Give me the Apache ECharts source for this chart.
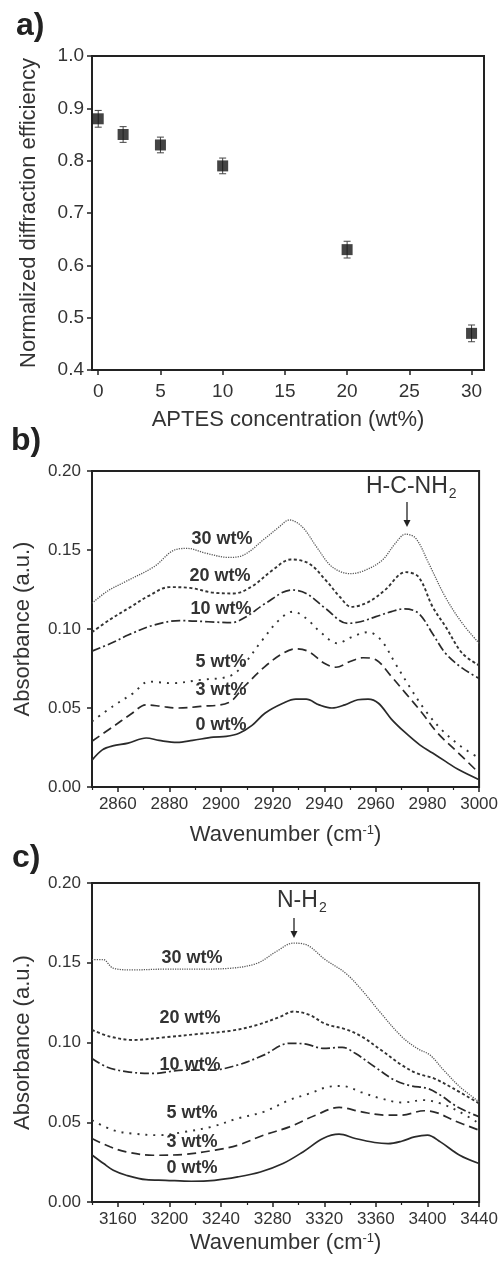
<!DOCTYPE html>
<html>
<head>
<meta charset="utf-8">
<script src="https://cdn.jsdelivr.net/npm/echarts@6/dist/echarts.min.js"></script>
<style>
html,body{margin:0;padding:0;background:#fff;}
#chart{width:501px;height:1264px;}
</style>
</head>
<body>
<div id="chart"></div>
<script>
// ---------- Panel a data ----------
const aConc = [0, 2, 5, 10, 20, 30];
const aEff  = [0.88, 0.85, 0.83, 0.79, 0.63, 0.47];
const aErr  = [0.016, 0.015, 0.015, 0.015, 0.016, 0.016];
const aXTicks = [0, 5, 10, 15, 20, 25, 30];
const aYTicks = [0.4, 0.5, 0.6, 0.7, 0.8, 0.9, 1.0];

// ---------- Panel b data (wavenumber, absorbance) ----------
const bXTicks = [2860, 2880, 2900, 2920, 2940, 2960, 2980, 3000];
const bXMinor = [2850, 2870, 2890, 2910, 2930, 2950, 2970, 2990];
const bYTicks = [0, 0.05, 0.10, 0.15, 0.20];
const b0 = [[2850,0.017],[2854,0.0235],[2858,0.026],[2864,0.0278],[2871,0.031],[2876,0.0295],[2883,0.0282],[2889,0.0295],[2897,0.0316],[2902,0.032],[2907,0.034],[2912,0.039],[2917,0.0467],[2924,0.053],[2929,0.0556],[2933,0.0556],[2938,0.052],[2943,0.050],[2948,0.052],[2953,0.0552],[2957,0.0556],[2961,0.053],[2966,0.043],[2971,0.035],[2977,0.0267],[2982,0.0215],[2987,0.0162],[2992,0.011],[3000,0.0046]];
const b3 = [[2850,0.029],[2858,0.038],[2865,0.046],[2871,0.052],[2877,0.051],[2883,0.050],[2892,0.051],[2903,0.0535],[2909,0.0636],[2917,0.0762],[2924,0.0846],[2929,0.0875],[2934,0.0857],[2940,0.0783],[2944.5,0.0758],[2950,0.0794],[2955,0.0818],[2960,0.0805],[2966,0.070],[2971.5,0.0594],[2978,0.0467],[2984,0.034],[2992,0.0215],[3000,0.0088]];
const b5 = [[2850,0.0415],[2858,0.051],[2866,0.0594],[2872,0.0667],[2881,0.0657],[2892,0.0678],[2903,0.070],[2908,0.076],[2916,0.093],[2922.5,0.1057],[2928,0.111],[2933,0.1067],[2939,0.0973],[2945,0.091],[2951,0.0952],[2957,0.098],[2962,0.093],[2967.5,0.0783],[2973,0.0636],[2979,0.0488],[2985.5,0.0362],[2993,0.0257],[3000,0.0183]];
const b10 = [[2850,0.086],[2858,0.0914],[2864,0.0962],[2874,0.1025],[2884,0.1053],[2895,0.1046],[2904,0.104],[2910,0.108],[2917,0.116],[2927.5,0.1247],[2933,0.1225],[2940.5,0.113],[2949,0.1036],[2954,0.1046],[2960,0.1078],[2966,0.111],[2971,0.1128],[2976.5,0.110],[2982,0.097],[2987,0.0846],[2993.5,0.0752],[3000,0.0688]];
const b20 = [[2850,0.098],[2857,0.106],[2865,0.114],[2872,0.121],[2880,0.1265],[2888,0.126],[2897,0.123],[2905,0.1225],[2912,0.127],[2920,0.1373],[2927,0.144],[2934,0.1415],[2940.5,0.131],[2946,0.1204],[2950.5,0.114],[2957,0.117],[2963.5,0.1246],[2971.5,0.136],[2976.5,0.133],[2982,0.114],[2987,0.1015],[2993.5,0.0846],[3000,0.077]];
const b30 = [[2850,0.1163],[2856,0.124],[2863,0.130],[2874,0.1394],[2882,0.150],[2887,0.151],[2894,0.148],[2903,0.1453],[2909,0.147],[2917,0.1573],[2922.5,0.1646],[2926.5,0.169],[2931.5,0.1646],[2937,0.152],[2943,0.1394],[2950,0.135],[2956,0.1373],[2962.5,0.1436],[2967.5,0.1541],[2971.5,0.160],[2975.5,0.1573],[2980.5,0.1415],[2987,0.120],[2993.5,0.1036],[3000,0.091]];

// ---------- Panel c data ----------
const cXTicks = [3160, 3200, 3240, 3280, 3320, 3360, 3400, 3440];
const cXMinor = [3140, 3180, 3220, 3260, 3300, 3340, 3380, 3420];
const cYTicks = [0, 0.05, 0.10, 0.15, 0.20];
const c0 = [[3140,0.0295],[3149,0.0241],[3156.5,0.0199],[3166.5,0.0168],[3182,0.014],[3197,0.0136],[3217,0.013],[3235,0.0136],[3253,0.0157],[3270.5,0.0188],[3288,0.0241],[3303.5,0.0314],[3319,0.0398],[3331.5,0.0425],[3344,0.0398],[3359,0.0373],[3369.5,0.0366],[3380,0.0381],[3390,0.0408],[3400,0.0419],[3410,0.0377],[3425,0.0293],[3440,0.0241]];
const c3 = [[3140,0.0398],[3154,0.0346],[3166.5,0.0314],[3187,0.0293],[3212,0.0299],[3235,0.0325],[3253,0.0356],[3273,0.0419],[3293,0.0471],[3313.5,0.0545],[3331.5,0.0593],[3349,0.0565],[3367,0.0545],[3380,0.0545],[3397.5,0.0572],[3407.5,0.0559],[3420,0.0513],[3440,0.045]];
const c5 = [[3140,0.0513],[3156.5,0.045],[3171.5,0.0429],[3192,0.0419],[3212,0.044],[3232.5,0.0471],[3253,0.0524],[3273,0.0565],[3293,0.0639],[3308.5,0.068],[3324,0.0723],[3334,0.0727],[3349,0.0687],[3364,0.0649],[3380,0.0624],[3397,0.0639],[3410,0.0618],[3425,0.0565],[3440,0.0492]];
const c10 = [[3140,0.090],[3151,0.0848],[3166.5,0.0817],[3187,0.0806],[3212,0.0827],[3232.5,0.0827],[3253,0.0859],[3273,0.0921],[3293,0.0995],[3306,0.099],[3319,0.0963],[3334,0.097],[3344,0.0932],[3359,0.0848],[3374.5,0.0764],[3387,0.0729],[3400,0.0712],[3410,0.067],[3423,0.0597],[3440,0.0534]];
const c20 = [[3140,0.1079],[3154,0.1037],[3171.5,0.1016],[3197,0.1033],[3222,0.1053],[3248,0.1074],[3268,0.111],[3286,0.1162],[3296,0.1194],[3308.5,0.1173],[3321,0.1116],[3336.5,0.1083],[3349,0.1037],[3364,0.0953],[3380,0.0859],[3392,0.0806],[3405,0.0775],[3420,0.0712],[3440,0.0618]];
const c30 = [[3140,0.1520],[3148.5,0.152],[3156.5,0.1466],[3171.5,0.1455],[3197,0.146],[3222,0.146],[3248,0.1466],[3268,0.1497],[3283,0.1571],[3296,0.1623],[3306,0.1613],[3321,0.1518],[3336.5,0.1435],[3349,0.133],[3364,0.1183],[3380,0.1037],[3392,0.0963],[3402,0.0921],[3412.5,0.0827],[3425,0.0723],[3440,0.0628]];

const seriesLabels = ['0 wt%', '3 wt%', '5 wt%', '10 wt%', '20 wt%', '30 wt%'];

// ---------- Styling ----------
const FONT = '"Liberation Sans", Arial, Helvetica, sans-serif';
const AX = '#222';
const TXT = '#333';
const lineStyles = [
  {type:'solid', width:1.7, color:'#2a2a2a'},
  {type:[9,5], width:1.7, color:'#2a2a2a'},
  {type:[2,6], width:1.9, color:'#333'},
  {type:[9,3,2,3], width:1.7, color:'#2a2a2a'},
  {type:[3,2.5], width:1.9, color:'#333'},
  {type:[1.2,1.2], width:1.3, color:'#555'}
];

function xAxisMain(grid, min, max, ticks, name, gap, fs, margin) {
  return {
    gridIndex: grid, type: 'value', min: min, max: max,
    name: name, nameLocation: 'middle', nameGap: gap,
    nameTextStyle: {fontSize: 22, color: TXT, fontFamily: FONT,
      rich: {sup: {fontSize: 13, color: TXT, fontFamily: FONT, verticalAlign: 'top', padding: [0, 0, 0, 0]}}},
    axisLine: {show: true, onZero: false, lineStyle: {color: AX, width: 2}},
    axisTick: {show: true, length: 5, customValues: ticks, lineStyle: {color: AX, width: 1.5}},
    axisLabel: {show: true, customValues: ticks, fontSize: fs, color: TXT, fontFamily: FONT, margin: margin,
      formatter: v => String(v)},
    splitLine: {show: false}
  };
}
function xAxisMinor(grid, min, max, ticks) {
  return {
    gridIndex: grid, type: 'value', min: min, max: max, position: 'bottom',
    axisLine: {show: false, onZero: false},
    axisTick: {show: true, length: 3, customValues: ticks, lineStyle: {color: AX, width: 1.2}},
    axisLabel: {show: false},
    splitLine: {show: false}
  };
}
function yAxis(grid, min, max, ticks, name, gap, fs, digits, margin) {
  return {
    gridIndex: grid, type: 'value', min: min, max: max,
    name: name, nameLocation: 'middle', nameGap: gap, nameRotate: 90,
    nameTextStyle: {fontSize: 22, color: TXT, fontFamily: FONT},
    axisLine: {show: true, onZero: false, lineStyle: {color: AX, width: 2}},
    axisTick: {show: true, length: 5, customValues: ticks, lineStyle: {color: AX, width: 1.5}},
    axisLabel: {show: true, customValues: ticks, fontSize: fs, color: TXT, fontFamily: FONT, margin: margin,
      formatter: v => Number(v).toFixed(digits)},
    splitLine: {show: false}
  };
}

const bData = [b0, b3, b5, b10, b20, b30];
const cData = [c0, c3, c5, c10, c20, c30];

const series = [];
// error bars for panel a
series.push({
  type: 'custom', xAxisIndex: 0, yAxisIndex: 0, z: 2,
  data: aConc.map((x, i) => [x, aEff[i] - aErr[i], aEff[i] + aErr[i]]),
  renderItem: function (params, api) {
    const x = api.value(0);
    const lo = api.coord([x, api.value(1)]);
    const hi = api.coord([x, api.value(2)]);
    const hw = 3.5;
    const st = {stroke: '#444', lineWidth: 1};
    return {type: 'group', children: [
      {type: 'line', shape: {x1: lo[0], y1: lo[1], x2: hi[0], y2: hi[1]}, style: st},
      {type: 'line', shape: {x1: lo[0] - hw, y1: lo[1], x2: lo[0] + hw, y2: lo[1]}, style: st},
      {type: 'line', shape: {x1: hi[0] - hw, y1: hi[1], x2: hi[0] + hw, y2: hi[1]}, style: st}
    ]};
  }
});
series.push({
  type: 'scatter', xAxisIndex: 0, yAxisIndex: 0, z: 3,
  symbol: 'rect', symbolSize: 11,
  itemStyle: {color: '#151515'},
  data: aConc.map((x, i) => [x, aEff[i]])
});
bData.forEach((d, i) => series.push({
  type: 'line', name: 'b ' + seriesLabels[i], xAxisIndex: 1, yAxisIndex: 1,
  data: d, showSymbol: false, smooth: 0.35, lineStyle: lineStyles[i]
}));
cData.forEach((d, i) => series.push({
  type: 'line', name: 'c ' + seriesLabels[i], xAxisIndex: 3, yAxisIndex: 2,
  data: d, showSymbol: false, smooth: 0.35, lineStyle: lineStyles[i]
}));

function txt(x, y, text, size, weight, align, color) {
  return {type: 'text', x: x, y: y, z: 10,
    style: {text: text, fill: color || TXT, fontSize: size, fontWeight: weight || 'normal', fontFamily: FONT,
      align: align || 'center', verticalAlign: 'middle'}};
}
const bLabelPos = [[221, 725], [221, 690], [221, 662], [221, 609], [220, 576], [222, 539]];
const cLabelPos = [[192, 1168], [192, 1142], [192, 1113], [190, 1065], [190, 1018], [192, 958]];
const graphics = [
  txt(16, 26, 'a)', 32, 'bold', 'left', '#222'),
  txt(11, 441, 'b)', 32, 'bold', 'left', '#222'),
  txt(12, 858, 'c)', 32, 'bold', 'left', '#222')
];
seriesLabels.forEach((s, i) => {
  graphics.push(txt(bLabelPos[i][0], bLabelPos[i][1], s, 18, 'bold'));
  graphics.push(txt(cLabelPos[i][0], cLabelPos[i][1], s, 18, 'bold'));
});
function annot(x, y, main) {
  return {type: 'text', x: x, y: y, z: 10,
    style: {text: '{m|' + main + '}{s|2}', align: 'left', verticalAlign: 'middle',
      rich: {m: {fontSize: 23, fill: TXT, fontFamily: FONT},
             s: {fontSize: 14, fill: TXT, fontFamily: FONT, verticalAlign: 'bottom', padding: [0, 0, -3, 1]}}}};
}
function arrow(x, y1, y2) {
  return [
    {type: 'line', z: 10, shape: {x1: x, y1: y1, x2: x, y2: y2 - 4}, style: {stroke: '#222', lineWidth: 1.3}},
    {type: 'polygon', z: 10, shape: {points: [[x - 3.5, y2 - 7], [x + 3.5, y2 - 7], [x, y2]]}, style: {fill: '#222'}}
  ];
}
graphics.push(annot(366, 487, 'H-C-NH'));
graphics.push(...arrow(407, 502, 527));
graphics.push(annot(277, 901, 'N-H'));
graphics.push(...arrow(294, 918, 938));

const option = {
  animation: false,
  backgroundColor: '#fff',
  textStyle: {fontFamily: FONT},
  grid: [
    {left: 92, top: 56, width: 392, height: 314, show: true, borderColor: AX, borderWidth: 2, backgroundColor: 'transparent'},
    {left: 92, top: 471, width: 388, height: 316, show: true, borderColor: AX, borderWidth: 2, backgroundColor: 'transparent'},
    {left: 92, top: 883, width: 393, height: 319, show: true, borderColor: AX, borderWidth: 2, backgroundColor: 'transparent'}
  ],
  xAxis: [
    xAxisMain(0, -0.5, 31, aXTicks, 'APTES concentration (wt%)', 39, 19, 12),
    xAxisMain(1, 2850, 3000, bXTicks, 'Wavenumber (cm{sup|-1})', 37, 17, 9),
    xAxisMinor(1, 2850, 3000, bXMinor),
    xAxisMain(2, 3140, 3440, cXTicks, 'Wavenumber (cm{sup|-1})', 30, 17, 9),
    xAxisMinor(2, 3140, 3440, cXMinor)
  ],
  yAxis: [
    yAxis(0, 0.4, 1.0, aYTicks, 'Normalized diffraction efficiency', 52, 19, 1, 8),
    yAxis(1, 0, 0.2, bYTicks, 'Absorbance (a.u.)', 58, 17, 2, 11),
    yAxis(2, 0, 0.2, cYTicks, 'Absorbance (a.u.)', 58, 17, 2, 11)
  ],
  series: series,
  graphic: graphics
};
const chart = echarts.init(document.getElementById('chart'), null, {renderer: 'canvas'});
chart.setOption(option);
</script>
</body>
</html>
